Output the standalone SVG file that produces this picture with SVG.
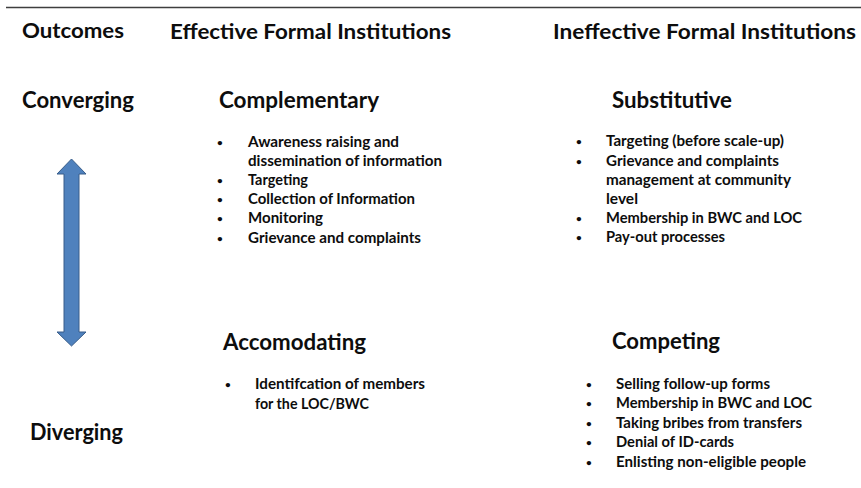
<svg xmlns="http://www.w3.org/2000/svg" width="861" height="488" viewBox="0 0 861 488">
  <style>
    text { font-family: Lato, "Open Sans", "Liberation Sans", sans-serif; font-weight: bold; fill: #0d0d0d; }
    .head { font-size: 21px; }
    .sub { font-size: 22px; }
    .item { font-size: 15px; }
    .dot { font-size: 10px; }
  </style>
  <rect x="0" y="0" width="861" height="488" fill="#ffffff"/>
  <line x1="6" y1="7.5" x2="861" y2="7.5" stroke="#3f3f3f" stroke-width="1.5"/>

  <!-- column headings -->
  <g id="headings">
    <text class="head" x="22" y="38" textLength="102" lengthAdjust="spacingAndGlyphs">Outcomes</text>
    <text class="head" x="170" y="39" textLength="281" lengthAdjust="spacingAndGlyphs">Effective Formal Institutions</text>
    <text class="head" x="553" y="39" textLength="303" lengthAdjust="spacingAndGlyphs">Ineffective Formal Institutions</text>
  </g>

  <!-- outcome axis -->
  <g id="axis">
    <text class="sub" x="22" y="108" textLength="112" lengthAdjust="spacingAndGlyphs">Converging</text>
    <text class="sub" x="30" y="440" textLength="93" lengthAdjust="spacingAndGlyphs">Diverging</text>
  </g>

  <g id="connectors">
    <polygon points="71.5,159 86,174 79,174 79,332 86,332 71.5,346 57,332 64,332 64,174 57,174" fill="#4f81bd" stroke="#385d8a" stroke-width="1"/>
  </g>

  <!-- quadrant: complementary -->
  <g id="complementary">
    <text class="sub" x="219" y="108" textLength="160" lengthAdjust="spacingAndGlyphs">Complementary</text>
    <text class="dot" x="217" y="146">•</text>
    <text class="item" x="248" y="147" textLength="151" lengthAdjust="spacingAndGlyphs">Awareness raising  and</text>
    <text class="item" x="248" y="166" textLength="194" lengthAdjust="spacingAndGlyphs">dissemination of information</text>
    <text class="dot" x="217" y="184">•</text>
    <text class="item" x="248" y="185" textLength="60" lengthAdjust="spacingAndGlyphs">Targeting</text>
    <text class="dot" x="217" y="203">•</text>
    <text class="item" x="248" y="204" textLength="167" lengthAdjust="spacingAndGlyphs">Collection of Information</text>
    <text class="dot" x="217" y="222">•</text>
    <text class="item" x="248" y="223" textLength="75" lengthAdjust="spacingAndGlyphs">Monitoring</text>
    <text class="dot" x="217" y="242">•</text>
    <text class="item" x="248" y="243" textLength="173" lengthAdjust="spacingAndGlyphs">Grievance and complaints</text>
  </g>

  <!-- quadrant: substitutive -->
  <g id="substitutive">
    <text class="sub" x="612" y="108" textLength="120" lengthAdjust="spacingAndGlyphs">Substitutive</text>
    <text class="dot" x="576" y="145">•</text>
    <text class="item" x="606" y="146" textLength="178" lengthAdjust="spacingAndGlyphs">Targeting (before scale-up)</text>
    <text class="dot" x="576" y="165">•</text>
    <text class="item" x="606" y="166" textLength="173" lengthAdjust="spacingAndGlyphs">Grievance and complaints</text>
    <text class="item" x="606" y="185" textLength="185" lengthAdjust="spacingAndGlyphs">management at community</text>
    <text class="item" x="606" y="204" textLength="32" lengthAdjust="spacingAndGlyphs">level</text>
    <text class="dot" x="576" y="222">•</text>
    <text class="item" x="606" y="223" textLength="196" lengthAdjust="spacingAndGlyphs">Membership in BWC and LOC</text>
    <text class="dot" x="576" y="241">•</text>
    <text class="item" x="606" y="242" textLength="119" lengthAdjust="spacingAndGlyphs">Pay-out processes</text>
  </g>

  <!-- quadrant: accommodating -->
  <g id="accomodating">
    <text class="sub" x="223" y="350" textLength="143" lengthAdjust="spacingAndGlyphs">Accomodating</text>
    <text class="dot" x="225" y="388">•</text>
    <text class="item" x="255" y="389" textLength="170" lengthAdjust="spacingAndGlyphs">Identifcation of members</text>
    <text class="item" x="255" y="409" textLength="114" lengthAdjust="spacingAndGlyphs">for the LOC/BWC</text>
  </g>

  <!-- quadrant: competing -->
  <g id="competing">
    <text class="sub" x="612" y="349" textLength="108" lengthAdjust="spacingAndGlyphs">Competing</text>
    <text class="dot" x="586" y="388">•</text>
    <text class="item" x="616" y="389" textLength="154" lengthAdjust="spacingAndGlyphs">Selling follow-up forms</text>
    <text class="dot" x="586" y="407">•</text>
    <text class="item" x="616" y="408" textLength="196" lengthAdjust="spacingAndGlyphs">Membership in BWC and LOC</text>
    <text class="dot" x="586" y="427">•</text>
    <text class="item" x="616" y="428" textLength="186" lengthAdjust="spacingAndGlyphs">Taking bribes from transfers</text>
    <text class="dot" x="586" y="446">•</text>
    <text class="item" x="616" y="447" textLength="118" lengthAdjust="spacingAndGlyphs">Denial of ID-cards</text>
    <text class="dot" x="586" y="466">•</text>
    <text class="item" x="616" y="467" textLength="190" lengthAdjust="spacingAndGlyphs">Enlisting non-eligible people</text>
  </g>
</svg>
